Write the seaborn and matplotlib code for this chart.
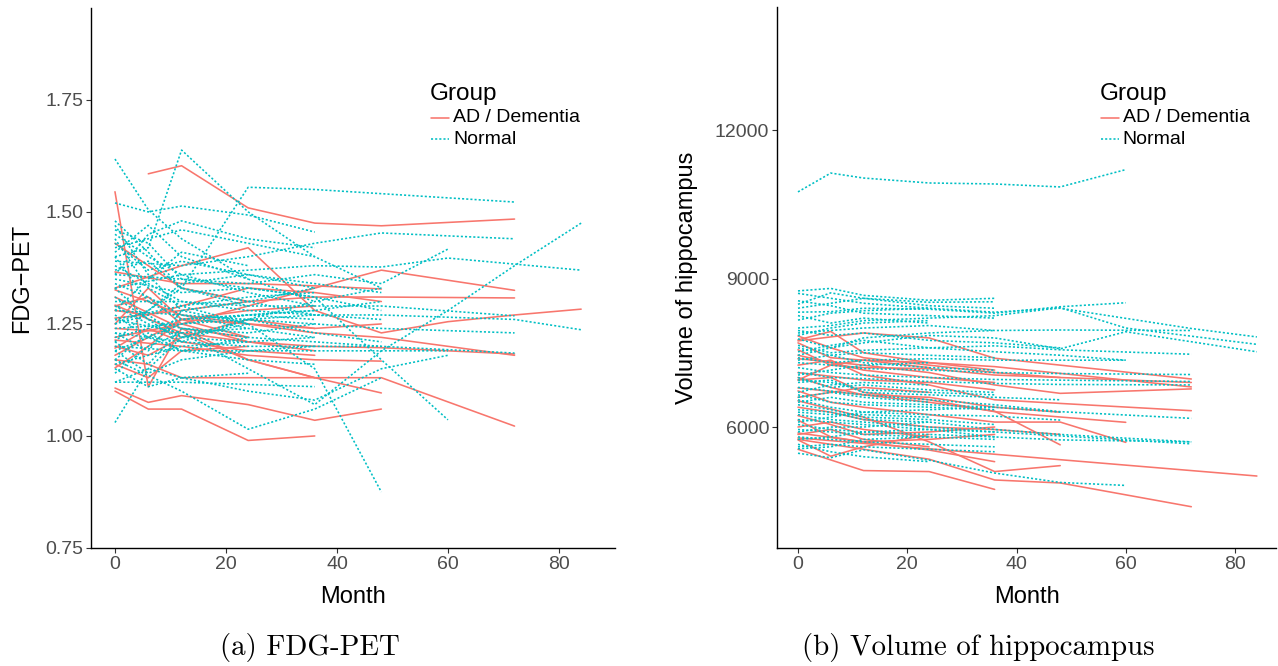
import matplotlib
matplotlib.use("Agg")
import matplotlib.pyplot as plt
import pandas as pd
import seaborn as sns
from matplotlib.lines import Line2D

# ---------------------------------------------------------------------------
# Longitudinal trajectories: each subject is a list of (month, value) visits
# ---------------------------------------------------------------------------
fdg_ad = [
    [(0, 1.545), (6, 1.11), (12, 1.24), (24, 1.22)],
    [(6, 1.585), (12, 1.603), (24, 1.509), (36, 1.475), (48, 1.469), (72, 1.484)],
    [(0, 1.33), (12, 1.38), (24, 1.42), (36, 1.28), (48, 1.23), (60, 1.255), (72, 1.27), (84, 1.283)],
    [(0, 1.29), (6, 1.31), (12, 1.25), (24, 1.21), (36, 1.19)],
    [(0, 1.22), (12, 1.25), (24, 1.29), (36, 1.33), (48, 1.37), (72, 1.325)],
    [(0, 1.366), (12, 1.34), (24, 1.34), (36, 1.335), (48, 1.328)],
    [(0, 1.263), (12, 1.28), (24, 1.30), (36, 1.31), (48, 1.31), (72, 1.308)],
    [(0, 1.24), (12, 1.23), (24, 1.21), (36, 1.20), (48, 1.197), (72, 1.183)],
    [(0, 1.214), (12, 1.20), (24, 1.18), (36, 1.17), (48, 1.167)],
    [(0, 1.31), (12, 1.24), (24, 1.17), (36, 1.13), (48, 1.13), (72, 1.022)],
    [(0, 1.292), (12, 1.23), (24, 1.17), (36, 1.13), (48, 1.096)],
    [(0, 1.10), (6, 1.06), (12, 1.06), (24, 0.99), (36, 1.00)],
    [(0, 1.107), (6, 1.075), (12, 1.09), (24, 1.07), (36, 1.035), (48, 1.06)],
    [(0, 1.17), (6, 1.16), (12, 1.13), (24, 1.13), (36, 1.13)],
    [(0, 1.196), (6, 1.24), (12, 1.21), (24, 1.19), (36, 1.18)],
    [(0, 1.152), (6, 1.20), (12, 1.26), (24, 1.25), (36, 1.24)],
    [(0, 1.326), (6, 1.30), (12, 1.27), (24, 1.25), (36, 1.23), (48, 1.22), (72, 1.18)],
    [(0, 1.25), (6, 1.33), (12, 1.26), (24, 1.22)],
    [(0, 1.18), (12, 1.26), (24, 1.28), (36, 1.29)],
    [(0, 1.28), (6, 1.27), (12, 1.29), (24, 1.33), (36, 1.32), (48, 1.30)],
    [(0, 1.43), (6, 1.38), (12, 1.33), (24, 1.30)],
    [(0, 1.20), (6, 1.18), (12, 1.22), (24, 1.26), (36, 1.24), (48, 1.25)],
    [(0, 1.16), (6, 1.13), (12, 1.19), (24, 1.20)],
]

fdg_normal = [
    [(0, 1.618), (6, 1.505), (12, 1.44), (24, 1.35), (36, 1.30)],
    [(0, 1.40), (6, 1.42), (12, 1.638), (24, 1.50), (36, 1.40), (48, 1.33)],
    [(0, 1.25), (6, 1.28), (12, 1.33), (24, 1.555), (36, 1.55), (72, 1.522)],
    [(0, 1.52), (6, 1.50), (12, 1.513), (24, 1.493), (36, 1.455)],
    [(0, 1.39), (12, 1.38), (24, 1.40), (36, 1.43), (48, 1.453), (72, 1.44)],
    [(0, 1.36), (12, 1.35), (24, 1.34), (36, 1.36), (48, 1.34), (60, 1.417)],
    [(0, 1.33), (12, 1.36), (24, 1.37), (36, 1.38), (48, 1.377), (60, 1.397), (84, 1.37)],
    [(0, 1.26), (12, 1.23), (24, 1.15), (36, 1.07), (48, 1.19), (60, 1.28), (72, 1.38), (84, 1.475)],
    [(0, 1.30), (12, 1.30), (24, 1.29), (36, 1.29), (48, 1.29), (72, 1.268)],
    [(0, 1.28), (12, 1.27), (24, 1.26), (36, 1.25), (48, 1.24), (72, 1.23)],
    [(0, 1.24), (12, 1.25), (24, 1.26), (36, 1.27), (48, 1.27), (72, 1.26), (84, 1.237)],
    [(0, 1.23), (12, 1.21), (24, 1.20), (36, 1.20), (48, 1.20), (72, 1.185)],
    [(0, 1.20), (12, 1.19), (24, 1.19), (36, 1.19), (48, 1.19), (60, 1.19)],
    [(0, 1.12), (6, 1.15), (12, 1.13), (24, 1.10), (36, 1.08), (48, 1.15), (60, 1.18)],
    [(0, 1.26), (12, 1.29), (24, 1.25), (36, 1.15), (48, 0.875)],
    [(0, 1.17), (12, 1.10), (24, 1.015), (36, 1.06), (48, 1.13)],
    [(0, 1.12), (12, 1.12), (24, 1.115), (36, 1.11)],
    [(0, 1.03), (6, 1.15), (12, 1.22), (24, 1.25)],
    [(0, 1.35), (12, 1.32), (24, 1.33), (36, 1.31), (48, 1.17), (60, 1.036)],
    [(0, 1.45), (6, 1.40), (12, 1.36), (24, 1.32), (36, 1.29)],
    [(0, 1.42), (6, 1.44), (12, 1.46), (24, 1.43), (36, 1.40)],
    [(0, 1.38), (6, 1.34), (12, 1.30), (24, 1.28), (36, 1.27), (48, 1.26)],
    [(0, 1.34), (6, 1.31), (12, 1.27), (24, 1.24), (36, 1.22)],
    [(0, 1.31), (6, 1.26), (12, 1.24), (24, 1.22), (36, 1.21), (48, 1.20)],
    [(0, 1.29), (6, 1.25), (12, 1.22), (24, 1.21)],
    [(0, 1.27), (6, 1.22), (12, 1.19), (24, 1.17), (36, 1.16)],
    [(0, 1.22), (6, 1.24), (12, 1.26), (24, 1.27), (36, 1.28), (48, 1.30)],
    [(0, 1.19), (6, 1.22), (12, 1.25), (24, 1.27), (36, 1.28)],
    [(0, 1.16), (6, 1.18), (12, 1.20), (24, 1.21), (36, 1.22)],
    [(0, 1.15), (6, 1.11), (12, 1.13), (24, 1.14)],
    [(0, 1.47), (6, 1.36), (12, 1.28), (24, 1.25)],
    [(0, 1.40), (6, 1.30), (12, 1.26), (24, 1.27), (36, 1.26)],
    [(0, 1.37), (6, 1.39), (12, 1.33), (24, 1.30), (36, 1.33)],
    [(0, 1.21), (6, 1.28), (12, 1.34), (24, 1.36), (36, 1.33)],
    [(0, 1.14), (6, 1.20), (12, 1.23), (24, 1.24)],
    [(0, 1.43), (6, 1.37), (12, 1.39), (24, 1.36), (36, 1.34), (48, 1.32)],
    [(0, 1.33), (6, 1.26), (12, 1.21), (24, 1.26), (36, 1.30), (48, 1.33)],
    [(0, 1.25), (6, 1.27), (12, 1.22), (24, 1.26), (36, 1.23), (48, 1.21)],
    [(0, 1.48), (6, 1.41), (12, 1.33), (24, 1.29)],
    [(0, 1.19), (6, 1.14), (12, 1.17), (24, 1.19), (36, 1.20)],
    [(0, 1.44), (6, 1.33), (12, 1.29), (24, 1.31), (36, 1.32)],
    [(0, 1.41), (6, 1.47), (12, 1.40), (24, 1.35)],
    [(0, 1.36), (6, 1.45), (12, 1.48), (24, 1.44), (36, 1.42)],
    [(0, 1.28), (6, 1.35), (12, 1.41), (24, 1.38)],
    [(0, 1.23), (6, 1.19), (12, 1.28), (24, 1.30), (36, 1.27)],
    [(0, 1.17), (6, 1.23), (12, 1.19), (24, 1.22)],
    [(0, 1.46), (6, 1.43), (12, 1.35), (24, 1.33), (36, 1.31), (48, 1.28)],
    [(0, 1.21), (6, 1.16), (12, 1.24), (24, 1.23), (36, 1.25)],
]

hippo_ad = [
    [(0, 7760), (6, 7930), (12, 7500), (24, 7300), (36, 7150)],
    [(0, 7740), (12, 7900), (24, 7800), (36, 7390), (72, 6970)],
    [(0, 7700), (6, 7400), (12, 7350), (24, 7300), (36, 7220), (72, 6810)],
    [(0, 7560), (6, 7250), (12, 7200), (24, 7180), (36, 7050), (48, 7000)],
    [(0, 7380), (12, 7250), (24, 7100), (36, 6850), (48, 6680), (72, 6770)],
    [(0, 7250), (6, 7350), (12, 7050), (24, 6850), (36, 6550), (72, 6330)],
    [(0, 7100), (12, 6950), (24, 6900), (36, 6750)],
    [(0, 6950), (6, 7000), (12, 6700), (24, 6550), (36, 6310), (60, 6095)],
    [(0, 6790), (12, 6650), (24, 6500), (36, 6320), (48, 5640)],
    [(0, 6730), (6, 6500), (12, 6400), (24, 6250), (36, 6100), (48, 6100), (60, 5690)],
    [(0, 6530), (12, 6200), (24, 5700), (36, 5100), (48, 5220)],
    [(0, 6230), (6, 6050), (12, 5850), (24, 5900), (36, 6000)],
    [(0, 6140), (6, 5800), (12, 5700), (24, 5750), (36, 5850)],
    [(0, 5880), (12, 5700), (24, 5535), (36, 5300)],
    [(0, 5750), (12, 5550), (24, 5350), (36, 4930), (48, 4870), (72, 4390)],
    [(0, 5780), (36, 5450), (84, 5010)],
    [(0, 5550), (12, 5120), (24, 5100), (36, 4740)],
    [(0, 5740), (6, 5410), (12, 5600), (24, 5850)],
    [(0, 6950), (6, 7250), (12, 7350), (24, 7200)],
    [(0, 7840), (6, 7600), (12, 7400), (24, 7250), (36, 7100), (48, 7000), (72, 6900)],
    [(0, 6600), (6, 6700), (12, 6800), (24, 6700)],
    [(0, 6000), (6, 6100), (12, 5950), (24, 5800)],
    [(0, 7450), (6, 7300), (12, 7150), (24, 7000), (36, 6900)],
    [(0, 7000), (6, 6800), (12, 6650), (24, 6600), (36, 6400), (48, 6300)],
    [(0, 6400), (6, 6300), (12, 6150), (24, 6000), (36, 5950), (48, 5850)],
    [(0, 5850), (6, 5950), (12, 5750), (24, 5600)],
]

hippo_normal = [
    [(0, 10750), (6, 11130), (12, 11030), (24, 10930), (36, 10910), (48, 10850), (60, 11200)],
    [(0, 8750), (6, 8800), (12, 8660), (24, 8560), (36, 8600)],
    [(0, 8480), (6, 8710), (12, 8600), (24, 8520), (36, 8530)],
    [(0, 8320), (6, 8330), (12, 8400), (24, 8380), (36, 8300), (48, 8430), (60, 8510)],
    [(0, 8160), (6, 8300), (12, 8350), (24, 8400), (36, 8320), (48, 8400), (72, 7990), (84, 7820)],
    [(0, 8000), (6, 8050), (12, 8150), (24, 8200), (36, 8250), (48, 8410), (60, 8000), (84, 7670)],
    [(0, 7900), (6, 7950), (12, 8000), (24, 8050), (36, 7950), (48, 7960), (72, 7950)],
    [(0, 7780), (6, 7600), (12, 7700), (24, 7850), (36, 7800), (48, 7580), (60, 7925), (84, 7520)],
    [(0, 7650), (6, 7500), (12, 7550), (24, 7600), (36, 7640), (48, 7560), (72, 7470)],
    [(0, 7520), (6, 7650), (12, 7750), (24, 7600), (36, 7520), (48, 7450), (60, 7350)],
    [(0, 7400), (6, 7300), (12, 7350), (24, 7380), (36, 7350), (60, 7350)],
    [(0, 7300), (6, 7250), (12, 7180), (24, 7150), (36, 7100), (48, 7080), (72, 7060)],
    [(0, 7200), (6, 7100), (12, 7050), (24, 7000), (36, 6960), (72, 6920)],
    [(0, 7100), (6, 7000), (12, 6980), (24, 6920), (36, 6880), (48, 6860), (72, 6850)],
    [(0, 7000), (6, 6800), (12, 6850), (24, 6750), (36, 6700)],
    [(0, 6900), (6, 6950), (12, 6700), (24, 6650), (36, 6600), (48, 6550)],
    [(0, 6800), (12, 6650), (24, 6550), (36, 6450), (48, 6310), (72, 6175)],
    [(0, 6650), (6, 6500), (12, 6450), (24, 6400), (36, 6350)],
    [(0, 6550), (6, 6400), (12, 6300), (24, 6250), (36, 6220), (48, 6140)],
    [(0, 6450), (6, 6350), (12, 6200), (24, 6150), (36, 6050)],
    [(0, 6350), (6, 6300), (12, 6150), (24, 6100), (36, 5950), (48, 5850), (72, 5700)],
    [(0, 6250), (6, 6150), (12, 6100), (24, 6000), (36, 5900), (72, 5660)],
    [(0, 6150), (6, 6100), (12, 6050), (24, 5950), (36, 5800), (48, 5740), (72, 5700)],
    [(0, 6050), (6, 5950), (12, 5900), (24, 5850), (36, 5800)],
    [(0, 5950), (6, 5900), (12, 5850), (24, 5800), (36, 5750)],
    [(0, 5800), (6, 5750), (12, 5700), (24, 5650), (36, 5600)],
    [(0, 5650), (6, 5500), (12, 5400), (24, 5300)],
    [(0, 5470), (6, 5380), (12, 5540), (24, 5330), (36, 5070), (48, 4880), (60, 4820)],
    [(0, 5560), (6, 5600), (12, 5750), (24, 5800)],
    [(0, 8700), (6, 8600), (12, 8500), (24, 8400)],
    [(0, 8400), (6, 8500), (12, 8600), (24, 8450), (36, 8400)],
    [(0, 8250), (6, 8100), (12, 8200), (24, 8100)],
    [(0, 7850), (6, 8000), (12, 8100), (24, 8150)],
    [(0, 7450), (6, 7600), (12, 7800), (24, 7900), (36, 7950)],
    [(0, 7050), (6, 7150), (12, 7250), (24, 7300)],
    [(0, 6700), (6, 6850), (12, 6900), (24, 6850)],
    [(0, 6100), (6, 6200), (12, 6300), (24, 6350), (36, 6400)],
    [(0, 5900), (6, 6000), (12, 6000), (24, 6100)],
    [(0, 7600), (6, 7450), (12, 7300), (24, 7200), (36, 7150)],
    [(0, 6600), (6, 6700), (12, 6600), (24, 6500)],
    [(0, 5750), (6, 5800), (12, 5900), (24, 5950), (36, 5900)],
    [(0, 8550), (6, 8450), (12, 8300), (24, 8250), (36, 8200)],
    [(0, 7950), (6, 7850), (12, 7900), (24, 7750), (36, 7700), (48, 7600)],
    [(0, 7350), (6, 7450), (12, 7500), (24, 7450), (36, 7400)],
    [(0, 6950), (6, 6900), (12, 6750), (24, 6700), (36, 6650)],
    [(0, 6500), (6, 6600), (12, 6500), (24, 6450), (36, 6400), (48, 6300)],
    [(0, 6300), (6, 6250), (12, 6250), (24, 6200)],
    [(0, 5600), (6, 5650), (12, 5600), (24, 5550), (36, 5500)],
]

groups = ["AD / Dementia", "Normal"]
fdg_yticks = [0.75, 1.00, 1.25, 1.50, 1.75]
hippo_yticks = [6000, 9000, 12000]
month_ticks = [0, 20, 40, 60, 80]

palette = {"AD / Dementia": "#F8766D", "Normal": "#00BFC4"}
dash_map = {"AD / Dementia": "", "Normal": (1.3, 1.3)}


def long_frame(ad, normal):
    rows = []
    for grp, subjects in zip(groups, (ad, normal)):
        for sid, visits in enumerate(subjects):
            for month, value in visits:
                rows.append({"Group": grp, "Subject": f"{grp}-{sid}",
                             "Month": month, "Value": value})
    return pd.DataFrame(rows)


sns.set_style("ticks")
plt.rcParams["font.family"] = ["Liberation Sans", "DejaVu Sans"]

W, H = 1278, 666
fig = plt.figure(figsize=(W / 100, H / 100), dpi=100)


def px_rect(x0, y0, x1, y1):
    return [x0 / W, 1 - y1 / H, (x1 - x0) / W, (y1 - y0) / H]


panels = [
    dict(rect=px_rect(91, 8, 615, 548), frame=long_frame(fdg_ad, fdg_normal),
         xlim=(-4.32, 90.1), ylim=(0.75, 1.955), yticks=fdg_yticks,
         yfmt="{:.2f}", ylabel="FDG\u2212PET", ylabel_x=22,
         caption="(a) FDG-PET", caption_x=310),
    dict(rect=px_rect(777, 7, 1276, 548), frame=long_frame(hippo_ad, hippo_normal),
         xlim=(-3.84, 87.5), ylim=(3556, 14485), yticks=hippo_yticks,
         yfmt="{:d}", ylabel="Volume of hippocampus", ylabel_x=687,
         caption="(b) Volume of hippocampus", caption_x=978),
]

for p in panels:
    ax = fig.add_axes(p["rect"])
    sns.lineplot(data=p["frame"], x="Month", y="Value", hue="Group", style="Group",
                 units="Subject", estimator=None, sort=True, palette=palette,
                 dashes=dash_map, hue_order=groups, style_order=groups,
                 linewidth=1.15, legend=False, ax=ax)
    ax.set_xlim(*p["xlim"])
    ax.set_ylim(*p["ylim"])
    ax.set_xticks(month_ticks)
    ax.set_xticklabels([str(t) for t in month_ticks])
    ax.set_yticks(p["yticks"])
    ax.set_yticklabels([p["yfmt"].format(t) for t in p["yticks"]])
    ax.set_xlabel("")
    ax.set_ylabel("")
    for side in ("top", "right"):
        ax.spines[side].set_visible(False)
    for side in ("left", "bottom"):
        ax.spines[side].set_color("black")
        ax.spines[side].set_linewidth(1.0)
    ax.tick_params(axis="both", direction="out", length=3.5, width=0.8,
                   color="#333333", labelcolor="#4D4D4D", labelsize=14, pad=2)
    ax.grid(False)

    x0, y0, w, h = p["rect"]
    cx = x0 + w / 2
    # axis titles
    fig.text(cx, 1 - 597 / H, "Month", ha="center", va="center",
             fontsize=17, color="black")
    fig.text(p["ylabel_x"] / W, 1 - 278 / H, p["ylabel"], rotation=90,
             ha="center", va="center", fontsize=17, color="black")
    # caption below the panel
    fig.text(p["caption_x"] / W, 1 - 647 / H, p["caption"], ha="center",
             va="center", fontsize=20.8, family="cmr10", color="black")

    # legend block inside the panel
    lx = x0 + 0.647 * w
    fig.text(lx, 1 - 94 / H, "Group", ha="left", va="center", fontsize=17.5,
             color="black")
    for k, grp in enumerate(groups):
        ly = 1 - (118 + 21 * k) / H
        ls = "-" if dash_map[grp] == "" else (0, dash_map[grp])
        fig.add_artist(Line2D([lx + 1 / W, lx + 19 / W], [ly, ly],
                              transform=fig.transFigure, color=palette[grp],
                              linewidth=1.15, linestyle=ls))
        fig.text(lx + 23 / W, ly, grp, ha="left", va="center", fontsize=14,
                 color="black")

fig.savefig("out.png", dpi=100, facecolor="white")
